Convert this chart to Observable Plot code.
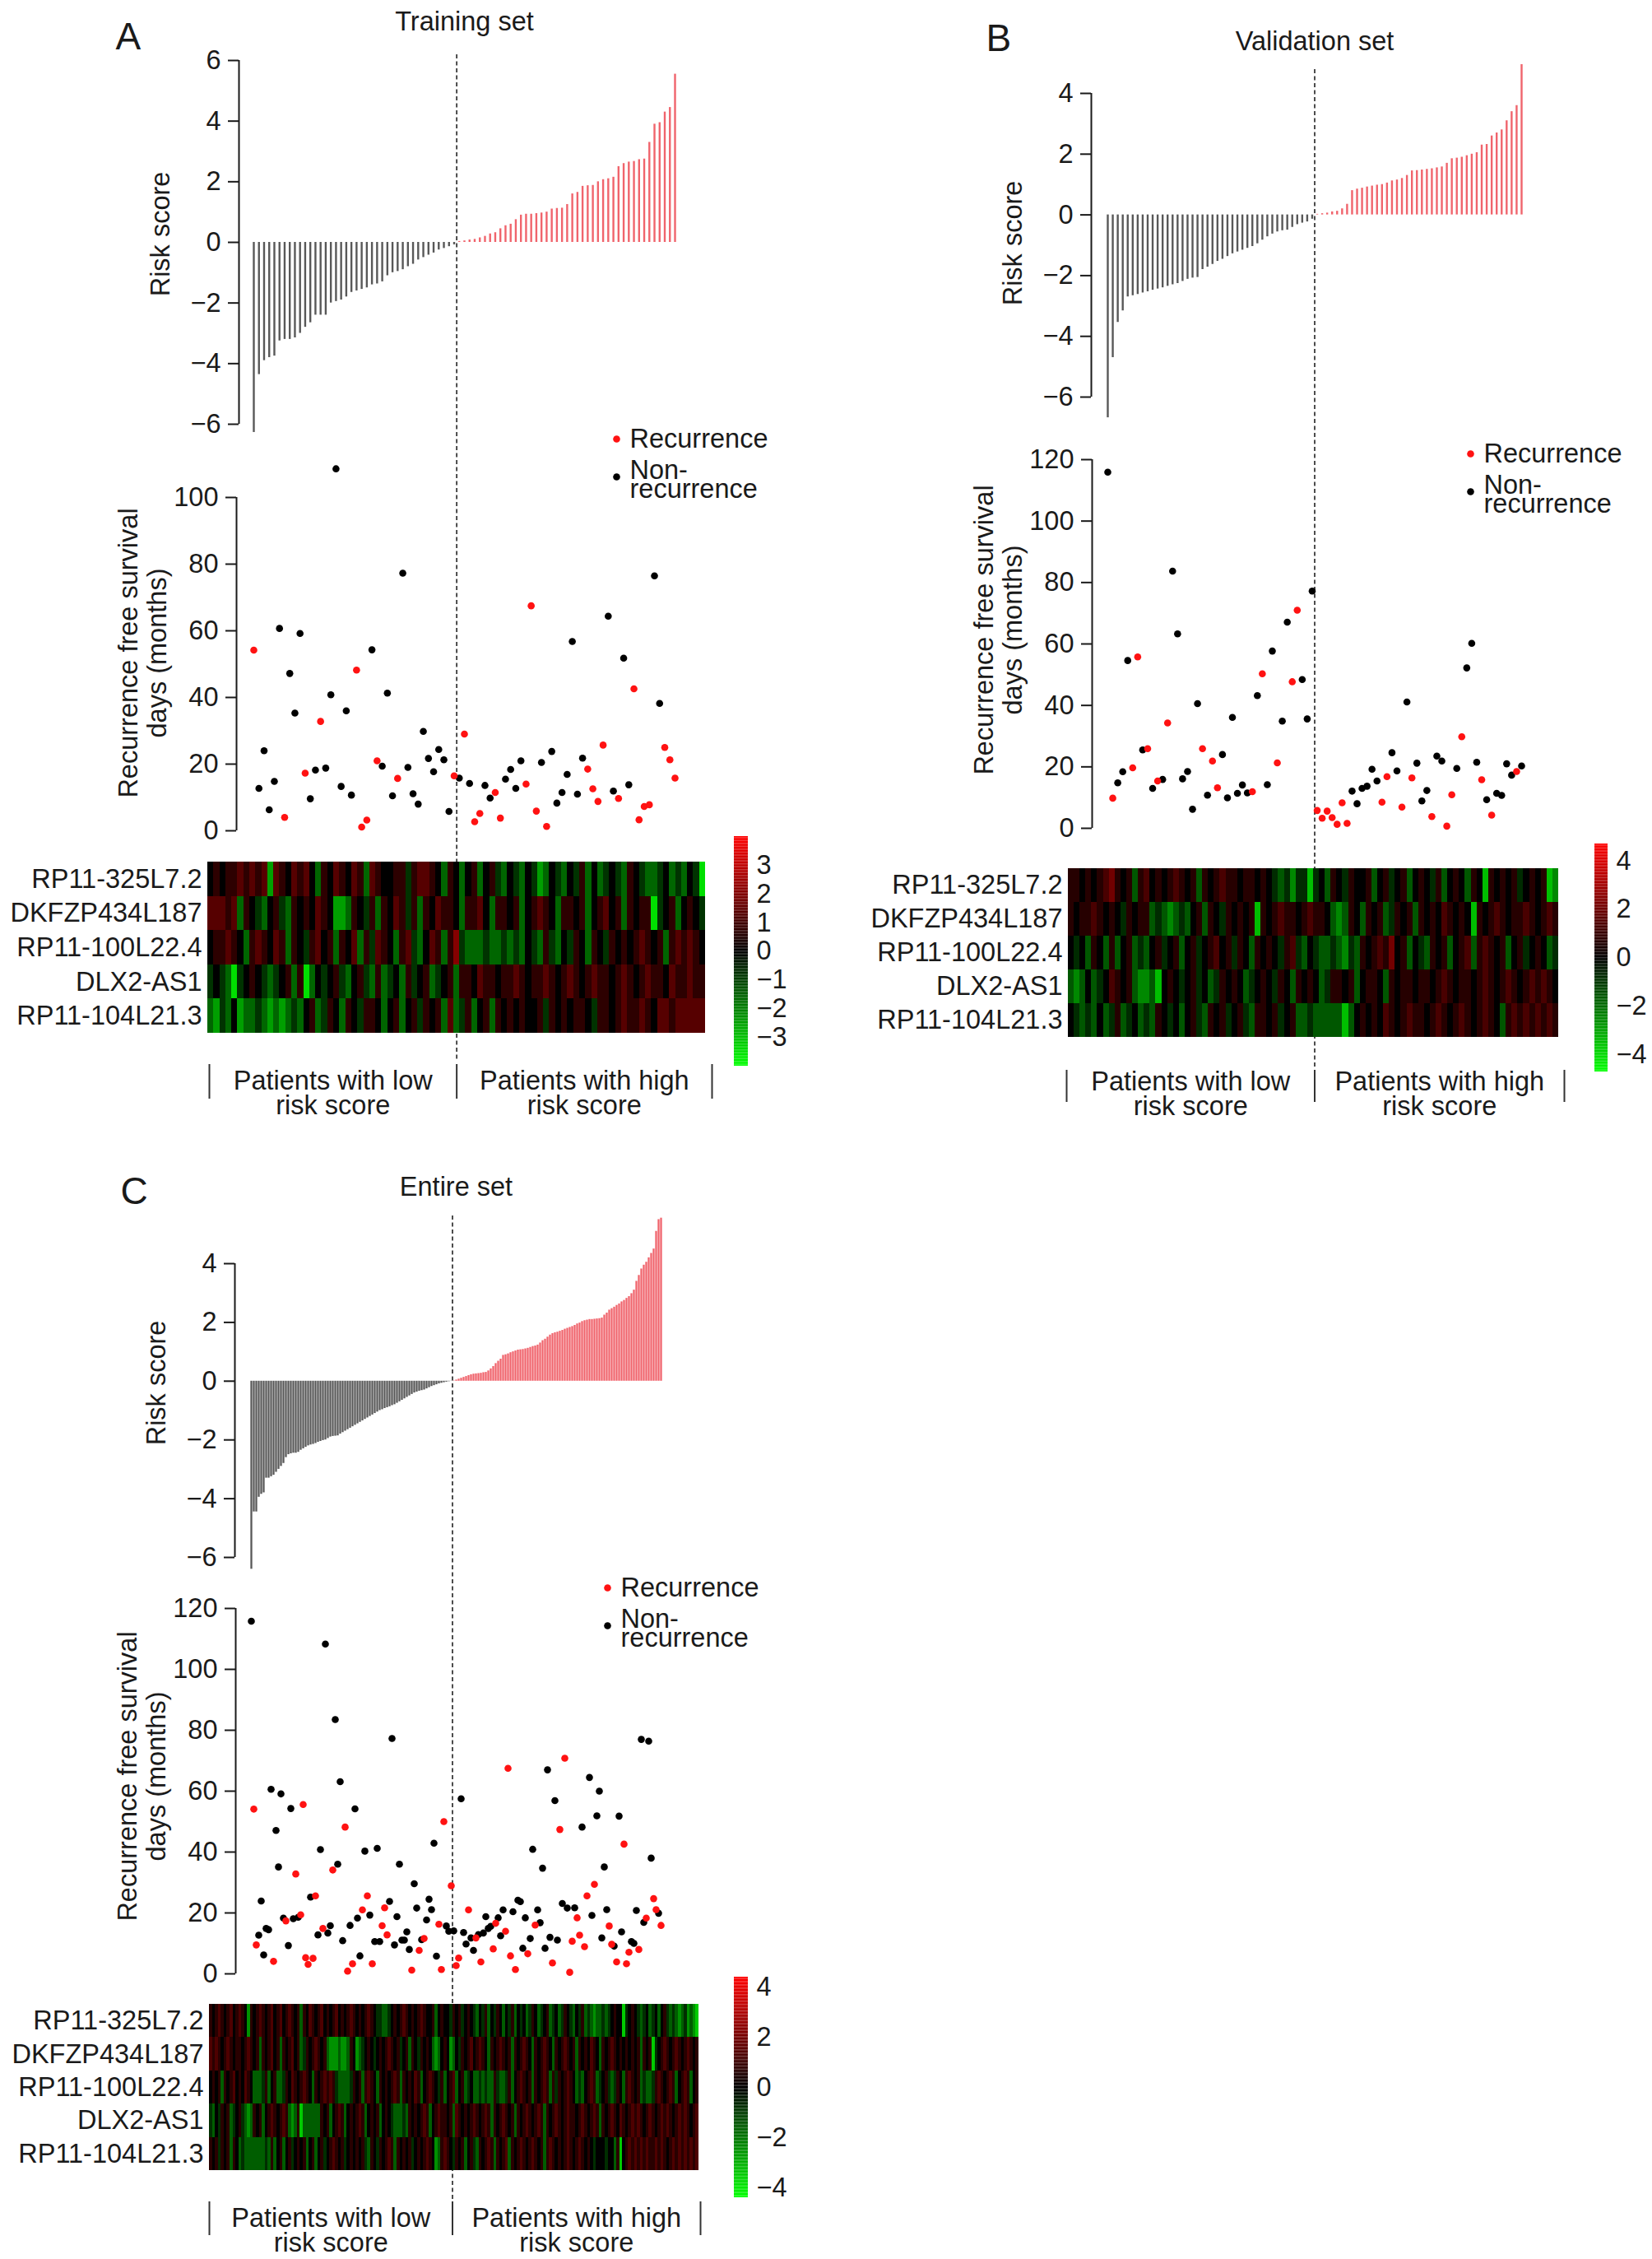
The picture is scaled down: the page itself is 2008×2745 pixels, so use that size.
<!DOCTYPE html>
<html>
<head>
<meta charset="utf-8">
<script src="https://cdn.jsdelivr.net/npm/d3@7"></script>
<script src="https://cdn.jsdelivr.net/npm/@observablehq/plot@0.6"></script>
<style>
html, body { margin: 0; padding: 0; background: #fff; }
#page { position: relative; width: 2008px; height: 2745px; overflow: hidden; background: #fff; }
#page > svg { position: absolute; left: 0; top: 0; }
</style>
</head>
<body>
<div id="page"></div>
<script>
// ---------------- text ----------------
const genes = ["RP11-325L7.2", "DKFZP434L187", "RP11-100L22.4", "DLX2-AS1", "RP11-104L21.3"];
const groupLabels = ["Patients with low\nrisk score", "Patients with high\nrisk score"];
const legendLabels = ["Recurrence", "Non-\nrecurrence"];
const riskLabel = "Risk score";
const survLabel = "Recurrence free survival\ndays (months)";
const panelTitles = ["Training set", "Validation set", "Entire set"];
const panelLetters = ["A", "B", "C"];

// ---------------- risk scores (sorted) ----------------
const trainLowScores = [-6.27,-4.36,-3.9,-3.8,-3.75,-3.25,-3.2,-3.2,-3.15,-3.0,-2.8,-2.65,-2.4,-2.4,-2.4,-2.0,-1.95,-1.9,-1.8,-1.65,-1.6,-1.55,-1.5,-1.4,-1.37,-1.3,-1.1,-1.0,-0.96,-0.9,-0.8,-0.72,-0.58,-0.5,-0.42,-0.35,-0.25,-0.2,-0.14,-0.08];
const trainHighScores = [0.03,0.05,0.08,0.1,0.15,0.2,0.28,0.32,0.45,0.55,0.6,0.75,0.9,0.93,0.93,0.95,0.97,1.0,1.1,1.12,1.13,1.25,1.6,1.65,1.85,1.87,1.88,2.0,2.07,2.1,2.15,2.5,2.6,2.65,2.67,2.73,2.75,3.3,3.9,3.95,4.3,4.45,5.55];

const validLowScores = [-6.68,-4.7,-3.54,-3.16,-2.7,-2.66,-2.62,-2.57,-2.53,-2.48,-2.44,-2.4,-2.35,-2.3,-2.26,-2.19,-2.12,-2.08,-2.06,-1.8,-1.72,-1.63,-1.53,-1.46,-1.37,-1.28,-1.22,-1.16,-1.1,-1.04,-0.95,-0.83,-0.72,-0.63,-0.56,-0.52,-0.5,-0.41,-0.32,-0.27,-0.23,-0.14];
const validHighScores = [0.02,0.04,0.06,0.1,0.12,0.2,0.35,0.8,0.85,0.88,0.92,0.95,0.98,1.0,1.05,1.12,1.15,1.2,1.3,1.45,1.46,1.48,1.5,1.52,1.55,1.58,1.7,1.85,1.87,1.9,1.95,2.0,2.05,2.3,2.32,2.6,2.7,2.8,3.1,3.4,3.6,4.95];

const entireLowScores = [-6.4,-4.45,-4.45,-3.95,-3.85,-3.8,-3.3,-3.3,-3.25,-3.2,
  -3.1,-3.0,-2.9,-2.8,-2.6,-2.5,-2.47,-2.45,-2.45,-2.42,
  -2.35,-2.3,-2.25,-2.2,-2.17,-2.15,-2.12,-2.08,-2.05,-2.02,
  -2.0,-1.95,-1.9,-1.88,-1.87,-1.86,-1.8,-1.75,-1.7,-1.65,
  -1.6,-1.55,-1.5,-1.45,-1.4,-1.35,-1.3,-1.25,-1.2,-1.15,
  -1.1,-1.05,-1.0,-0.97,-0.93,-0.9,-0.87,-0.83,-0.8,-0.75,
  -0.7,-0.65,-0.6,-0.55,-0.5,-0.45,-0.4,-0.37,-0.34,-0.32,
  -0.3,-0.26,-0.22,-0.18,-0.15,-0.12,-0.09,-0.07,-0.05,-0.03,
  -0.015,-0.005];
const entireHighScores = [0.01,0.04,0.07,0.1,0.13,0.16,0.19,0.22,0.24,0.25,
  0.26,0.27,0.29,0.3,0.35,0.42,0.5,0.6,0.68,0.75,
  0.88,0.9,0.93,0.97,1.0,1.03,1.06,1.07,1.08,1.1,
  1.12,1.15,1.18,1.2,1.23,1.3,1.38,1.43,1.5,1.57,
  1.62,1.65,1.67,1.7,1.73,1.77,1.8,1.83,1.86,1.9,
  1.95,1.98,2.03,2.06,2.08,2.1,2.1,2.11,2.12,2.13,
  2.15,2.25,2.32,2.42,2.47,2.52,2.58,2.63,2.7,2.75,
  2.82,2.88,2.98,3.1,3.4,3.6,3.82,3.95,4.05,4.2,
  4.35,4.5,5.1,5.5,5.55];

// ---------------- recurrence-free survival (months) and status (R = recurrence, N = non-recurrence) ----------------
const trainSurvival = [54.2,12.7,24,6.3,14.8,60.7,4,47.2,35.3,59.2,
  17.3,9.6,18.2,32.8,18.8,40.8,108.6,13.3,36,10.7,
  48.2,1.1,3.2,54.3,21,19.4,41.3,10.5,15.7,77.3,
  19,11.1,8,29.8,21.7,17.7,24.4,21.3,5.8,16.5,
  15.8,29,14.2,2.7,5.2,13.6,9.8,11.5,3.8,15.5,
  18.4,12.7,21,14,67.5,5.9,20.5,1.3,23.8,8.3,
  11.5,16.9,56.8,11,21.8,18.5,12.6,8.8,25.7,64.4,
  11.9,9.7,51.8,13.8,42.6,3.3,7.3,7.8,76.5,38.2,
  25,21.3,15.8];
const trainStatus = "RNNNNNRNNN" + "RNNRNNNNNN" + "RRRNRNNNRN" + "NNNNNNNNNR" + "NRNRRNNRRN" +
  "NNNRRRNRNN" + "NNNNNRRRRN" + "NRNNRRRRNN" + "RRR";

const validSurvival = [115.9,9.8,14.8,18.4,54.6,19.7,55.8,25.5,25.9,13,
  15.4,15.9,34.3,83.7,63.3,16.1,18.5,6.2,40.6,25.9,
  10.8,21.9,13.2,24,9.9,36.1,11.4,14.1,11.5,11.9,
  43.2,50.3,14.2,57.7,21.3,34.9,67.1,47.7,71,48.4,
  35.6,77.2,5.8,3.3,5.6,3.5,1.3,8.3,1.6,12.1,
  8,13,13.7,19.2,15.4,8.5,16.8,24.6,18.7,6.9,
  41.1,16.4,21.2,8.9,12.3,3.8,23.5,21.9,0.7,10.9,
  19.5,29.8,52.2,60.2,21.5,15.8,9.3,4.3,11.4,10.7,
  21,17.3,18.5,20.3];
const validStatus = "NRNNNRRNRN" + "RNRNNNNNNR" + "NRRNNNNNNR" + "NRNNRNNRRN" + "NNRRRRRRRN" +
  "NNNNNRRNNR" + "NRNNNRNNRR" + "NRNNNRNRNN" + "NNRN";

const entireSurvival = [115.8,54.1,9.5,12.7,23.9,6.2,14.9,14.5,60.6,4.1,
  47.1,35.1,59.1,18.3,17.4,9.3,54.3,18.1,32.8,18.6,
  19.4,55.6,5.3,3.1,25.2,5.1,25.6,12.8,40.8,14.9,
  108.3,13.4,15.8,34.1,83.5,36,63.1,10.9,48.2,0.9,
  15.9,3.3,54.2,18.3,5.9,21,40.3,25.6,19.3,3.3,
  10.6,41.2,10.6,15.8,21.7,12.8,23.8,77.3,9.5,18.8,
  36,11.1,11.1,13.8,8,1.2,29.6,21.6,7.7,11.2,
  11.6,17.7,24.5,21.1,42.9,5.8,16.3,1.4,50,15.7,
  14,28.9,14.1,2.7,5.2,57.5,13.6,9.8,21,11.8,
  7.7,11.8,12.9,3.9,13.4,18.8,14.9,15.6,8.2,16.6,
  18.4,12.5,21,14,67.5,5.9,20.4,1.4,24.2,23.7,
  8.4,18.4,6.6,11.6,40.9,16,21,16.8,34.7,8.4,
  67,12,3.6,56.9,11.1,47.4,23.1,70.8,21.6,0.5,
  10.7,21.7,18.4,12.7,48.2,8.9,25.6,64.5,19.2,29.4,
  51.9,60,11.8,35.1,21.1,15.7,9.7,9.1,3.9,51.8,
  13.8,42.6,3.3,7.1,10.6,10,20.8,8,77,16.9,
  18.3,76.4,38,24.7,21.1,19.9,15.9];
const entireStatus = "NRRNNNNNNR" + "NNNNRNNNRN" + "RRRRNRRNNR" + "NNNRNNNNRR" + "NRNNNRNRNR" +
  "NNNRRRNNNN" + "NNNNNRNNRN" + "RNNNNNRRRN" + "NRNRRNNNRN" + "NRNRNNNNRR" +
  "NNNRRRNRNN" + "NNRNNRNNNN" + "NNRNNRNRNR" + "RNRRNRRNNR" + "NNNNNRRNRN" +
  "NRRRNNNRNN" + "RNNRRNR";

// ---------------- heatmap expression levels (one letter per patient column) ----------------
const heatLevels = {a: -3.5, b: -2.5, c: -1.6, d: -0.8, e: 0, f: 0.7, g: 1.35, h: 2.1, i: 3.2};
const trainHeat = [
  ["efeffgfgfg","bgfegfgecf","egfegfcgfe","effdfggfec","fecefcefdc","edcedbcedc","edfcecdedc","fedccdecdc","eda"].join(""),
  ["gggfgcfedc","efdcfefegf","ebbcfedfcf","egfdfcfegf","fecffgecff","efcefgfecf","fefcefgefc","feffadefce","fed"].join(""),
  ["effgfecfgf","egfcfedfge","fcfegcfdgf","ecfgdcegfc","fhdcccdccd","cdcedcfdce","dfecfedfef","efgfefcfgf","gfe"].join(""),
  ["dedcadefed","cdefcfaced","efdcefdcfc","decfdefcde","fcffegffef","fgfeffgfef","gfefgffefg","fefgffegff","gff"].join(""),
  ["cbdcebccdc","bcbcdcefcd","fecfedffec","efcefdfefc","gcdfcefcfe","fefeefdfef","effedffefg","ffgfeggfgg","ggg"].join("")
];
const validHeat = [
  ["ffefefghfe","fcfgefefgf","efcfefgffe","ffefedcdbd","dadecfedfe","efcefdefce","fedfcefecf","eafefefdef","efab"].join(""),
  ["feffgfefed","feffcdcbcd","cefcfedfef","efafefgffe","fgffecbcfe","cfefcdfefc","fefegfefea","fefgfeffgf","efgf"].join(""),
  ["edecfecfce","fcdcefdefc","efdefgefdf","ecfefedfgd","cedccdcbdc","fefgfhefce","dcfefcefgc","fgfefcefde","fecd"].join(""),
  ["cbcecdegfe","fcbbcaefed","efdecdfefe","cdefedfecf","efecdffefc","effecfeffe","ffefgfeffe","fgfefgfefg","fgfe"].join(""),
  ["edcdcecdfc","decdcfedec","efdcfefdef","dcffefdefc","cdcccccace","fefegfefgf","fefgfefgfe","fgfecfgfgf","gfgf"].join("")
];
const entireHeat = [
  ["fefgfefgef","gfebfefgfe","fgefgefgfe","fcfegfefge","fefgefefgf","efefgfeddc","cdefefgfef","efgfeefcef","eedfefdefe","dcedfcedfe","cedfcedecd","fecdefcdec","dfedcedfcd","cbccdcdefe","eadefedcde","cdecefdcdc","bcdbcba"].join(""),
  ["gfgfefgfef","fefgfefcfe","fgefcfefge","fcdfefgfef","cbbbcbbcfe","bcdefedefe","fgfefdefcf","edfefecbce","febcedfefg","efgfecfefg","fefcfefgfe","cfefgfecfe","fgfefcfefe","gfecfefgfe","fefefefcfe","fadefgfefg","fefgfef"].join(""),
  ["efefcfefge","fegfecccdf","cefccdfegf","efgfecfefg","fgfdccccdf","efcfgfecfe","fefgfcfefe","gfcefgfedf","cefgcefcde","ccdcdccfdc","cdfcefgfef","cfefgfcfdf","efgfecdcef","gfcdefdcdf","ecfgfefcdc","cdfgfefgfc","efgfcef"].join(""),
  ["dcedfefcde","fdcbcfefce","fgfefgfcbc","faccccccfe","fcefgfcefe","fgfcefefce","fedcccdcfe","fefgfcefgf","fefcgfefef","gfefgfcfef","gfefcfefgf","efgfcfefgf","efgffefgfe","fgfcfefgfe","gfefgfgfef","gfefgfgfef","gfgfefg"].join(""),
  ["fefdfefcfe","cdcccccccd","cfcefcefde","fefcefcefd","efgfefdefe","fefdcfedfe","fgfcfefefd","efefgfebcf","gfedfefcef","dcfefgfcfe","fgcfefgfef","gfefcfgfef","efgfefgfef","edeeedeecf","aefgfgfgfg","ffgfgfefgf","gfgfgfg"].join("")
];

// colour bar limits and ticks
const trainColorLimit = 4.0, validColorLimit = 4.7, entireColorLimit = 4.4;
const trainColorTicks = [-3, -2, -1, 0, 1, 2, 3];
const otherColorTicks = [-4, -2, 0, 2, 4];

// ---------------- style ----------------
const W = 2008, H = 2745;
const FONT = "'Liberation Sans', Arial, Helvetica, sans-serif";
const INK = "#1a1a1a";
const GRAY_BAR = "#585858", RED_BAR = "#f0646c", RED_PT = "#ff1212", BLACK_PT = "#000000";
const STYLE = {background: "transparent", overflow: "visible", fontFamily: FONT, fontSize: "32.5px", color: INK};

const page = document.getElementById("page");
const txt = d => d;

function drawPanel(P) {
  const L = P.layout;
  const scores = P.low.concat(P.high);
  const n = scores.length, nLow = P.low.length;
  const xPat = d3.scaleLinear([0, n - 1], [L.x0, L.x1]);
  const cut = nLow - 0.5;
  const cutPx = xPat(cut);
  const tMin = d3.min(L.barTicks), tMax = d3.max(L.barTicks);
  const yBar = d3.scaleLinear([tMin, tMax], [L.barBottom, L.barTop]);
  const bars = scores.map((v, i) => ({i, v}));

  // ---- risk score bars ----
  const barPlot = Plot.plot({
    width: W, height: H,
    marginLeft: L.axisX, marginRight: W - L.x1 - 30, marginTop: L.barTop, marginBottom: H - L.barBottom,
    x: {domain: [0, n - 1], range: [L.x0, L.x1], axis: null},
    y: {domain: [tMin, tMax]},
    style: STYLE,
    marks: [
      Plot.ruleX(bars.filter(d => d.i < nLow), {x: "i", y1: 0, y2: "v", stroke: GRAY_BAR, strokeWidth: L.barW}),
      Plot.ruleX(bars.filter(d => d.i >= nLow), {x: "i", y1: 0, y2: "v", stroke: RED_BAR, strokeWidth: L.barW}),
      Plot.ruleX([cut], {y1: yBar.invert(L.dashTop), y2: yBar.invert(L.dashBottom), stroke: "#3a3a3a", strokeWidth: 1.8, strokeDasharray: "5,3.5"}),
      Plot.ruleX([xPat.invert(L.axisX)], {y1: tMin, y2: tMax, stroke: INK, strokeWidth: 2}),
      Plot.axisY({ticks: L.barTicks, tickSize: 13, tickPadding: 9, strokeWidth: 2, label: null}),
      Plot.text([riskLabel], {text: txt, frameAnchor: "left", rotate: -90, dx: -85, dy: L.riskLabelY - (L.barTop + L.barBottom) / 2, lineAnchor: "bottom", textAnchor: "middle"}),
      Plot.text([P.title], {text: txt, x: () => (n - 1) / 2, y: () => yBar.invert(L.titleBase), lineAnchor: "bottom", textAnchor: "middle"}),
      Plot.text([P.letter], {text: txt, x: () => xPat.invert(L.letterX), y: () => yBar.invert(L.letterBase), lineAnchor: "bottom", textAnchor: "start", fontSize: 46})
    ]
  });
  page.appendChild(barPlot);

  // ---- survival scatter ----
  const sMax = d3.max(L.scTicks);
  const ySc = d3.scaleLinear([0, sMax], [L.scBottom, L.scTop]);
  const pts = P.surv.map((t, i) => ({i, t, s: P.status[i]}));
  const scPlot = Plot.plot({
    width: W, height: H,
    marginLeft: L.scAxisX, marginRight: W - L.x1 - 30, marginTop: L.scTop, marginBottom: H - L.scBottom,
    x: {domain: [0, n - 1], range: [L.x0, L.x1], axis: null},
    y: {domain: [0, sMax]},
    style: STYLE,
    marks: [
      Plot.ruleX([xPat.invert(L.scAxisX)], {y1: 0, y2: sMax, stroke: INK, strokeWidth: 2}),
      Plot.axisY({ticks: L.scTicks, tickSize: 13, tickPadding: 9, strokeWidth: 2, label: null}),
      Plot.dot(pts.filter(d => d.s === "N"), {x: "i", y: "t", r: 4.3, fill: BLACK_PT}),
      Plot.dot(pts.filter(d => d.s === "R"), {x: "i", y: "t", r: 4.3, fill: RED_PT}),
      Plot.dot([0], {x: () => xPat.invert(L.legX), y: () => ySc.invert(L.legY), r: 4.3, fill: RED_PT}),
      Plot.dot([0], {x: () => xPat.invert(L.legX), y: () => ySc.invert(L.legY + 46), r: 4.3, fill: BLACK_PT}),
      Plot.text([legendLabels[0]], {text: txt, x: () => xPat.invert(L.legX + 16), y: () => ySc.invert(L.legY + 10), lineAnchor: "bottom", textAnchor: "start"}),
      Plot.text([legendLabels[1]], {text: txt, x: () => xPat.invert(L.legX + 16), y: () => ySc.invert(L.legY + 71), lineAnchor: "bottom", textAnchor: "start", lineHeight: 0.68}),
      Plot.text([survLabel], {text: txt, frameAnchor: "left", rotate: -90, dx: -86, dy: L.scLabelY - (L.scTop + L.scBottom) / 2, lineAnchor: "bottom", textAnchor: "middle", lineHeight: 1.05})
    ]
  });
  page.appendChild(scPlot);

  // ---- heatmap ----
  const lim = P.colorLimit;
  const colorSpec = {type: "linear", domain: [-lim, 0, lim], range: ["#00ff00", "#000000", "#ff0000"], interpolate: "rgb"};
  const cells = P.heat.flatMap((row, r) => Array.from(row).map((ch, c) => ({r, c, v: heatLevels[ch]})));
  const xHeat = d3.scaleLinear([0, n], [L.heatX0, L.heatX1]);
  const yHeat = d3.scaleLinear([0, genes.length], [L.heatY0, L.heatY1]);
  const cutHeat = xHeat.invert(cutPx);
  const sepL = xHeat.invert(L.sepL), sepR = xHeat.invert(L.sepR);
  const heatPlot = Plot.plot({
    width: W, height: H,
    marginLeft: L.heatX0, marginRight: W - L.heatX1, marginTop: L.heatY0, marginBottom: H - L.heatY1,
    x: {domain: [0, n], axis: null},
    y: {domain: [0, genes.length], reverse: true},
    color: colorSpec,
    style: STYLE,
    marks: [
      Plot.rect(cells, {x1: "c", x2: d => d.c + 1, y1: "r", y2: d => d.r + 1, fill: "v", shapeRendering: "crispEdges"}),
      Plot.axisY({ticks: genes.map((g, i) => i + 0.5), tickFormat: d => genes[Math.floor(d)], tickSize: 0, tickPadding: 7, label: null}),
      Plot.ruleX([sepL, cutHeat, sepR], {y1: yHeat.invert(L.grpTop), y2: yHeat.invert(L.grpBottom), stroke: "#333", strokeWidth: 2}),
      Plot.text(groupLabels, {text: txt,
        x: (d, i) => i === 0 ? (sepL + cutHeat) / 2 : (cutHeat + sepR) / 2,
        y: () => yHeat.invert(L.grpBase), lineAnchor: "bottom", textAnchor: "middle", lineHeight: 0.9})
    ]
  });
  page.appendChild(heatPlot);

  // ---- colour bar ----
  const step = lim / 100;
  const slices = d3.range(-lim, lim - step / 2, step);
  const cbPlot = Plot.plot({
    width: W, height: H,
    marginLeft: L.cbX0, marginRight: W - L.cbX1, marginTop: L.cbTop, marginBottom: H - L.cbBottom,
    x: {domain: [0, 1], axis: null},
    y: {domain: [-lim, lim]},
    color: colorSpec,
    style: STYLE,
    marks: [
      Plot.rect(slices, {x1: 0, x2: 1, y1: d => d, y2: d => Math.min(lim, d + step * 1.05), fill: d => d + step / 2}),
      Plot.axisY({anchor: "right", ticks: P.colorTicks, tickSize: 0, tickPadding: 10, label: null})
    ]
  });
  page.appendChild(cbPlot);
}

drawPanel({
  letter: panelLetters[0], title: panelTitles[0],
  low: trainLowScores, high: trainHighScores, surv: trainSurvival, status: trainStatus,
  heat: trainHeat, colorLimit: trainColorLimit, colorTicks: trainColorTicks,
  layout: {
    axisX: 290, x0: 308, x1: 820, barW: 2.4,
    barTicks: [-6, -4, -2, 0, 2, 4, 6], barTop: 73, barBottom: 515,
    titleBase: 36, letterX: 140, letterBase: 59, riskLabelY: 284,
    dashTop: 66, dashBottom: 1290,
    scAxisX: 287, scTicks: [0, 20, 40, 60, 80, 100], scTop: 604, scBottom: 1009, scLabelY: 793,
    legX: 749, legY: 533,
    heatX0: 252, heatX1: 857, heatY0: 1047, heatY1: 1255,
    sepL: 254, sepR: 865, grpTop: 1293, grpBottom: 1335, grpBase: 1353,
    cbX0: 892, cbX1: 909, cbTop: 1016, cbBottom: 1295
  }
});

drawPanel({
  letter: panelLetters[1], title: panelTitles[1],
  low: validLowScores, high: validHighScores, surv: validSurvival, status: validStatus,
  heat: validHeat, colorLimit: validColorLimit, colorTicks: otherColorTicks,
  layout: {
    axisX: 1326, x0: 1346, x1: 1849, barW: 2.4,
    barTicks: [-6, -4, -2, 0, 2, 4], barTop: 113, barBottom: 482,
    titleBase: 60, letterX: 1198, letterBase: 61, riskLabelY: 295,
    dashTop: 84, dashBottom: 1298,
    scAxisX: 1327, scTicks: [0, 20, 40, 60, 80, 100, 120], scTop: 558, scBottom: 1006, scLabelY: 765,
    legX: 1787, legY: 551,
    heatX0: 1298, heatX1: 1894, heatY0: 1055, heatY1: 1260,
    sepL: 1296, sepR: 1901, grpTop: 1300, grpBottom: 1339, grpBase: 1354,
    cbX0: 1938, cbX1: 1954, cbTop: 1025, cbBottom: 1302
  }
});

drawPanel({
  letter: panelLetters[2], title: panelTitles[2],
  low: entireLowScores, high: entireHighScores, surv: entireSurvival, status: entireStatus,
  heat: entireHeat, colorLimit: entireColorLimit, colorTicks: otherColorTicks,
  layout: {
    axisX: 285, x0: 305, x1: 803, barW: 2.3,
    barTicks: [-6, -4, -2, 0, 2, 4], barTop: 1535, barBottom: 1892,
    titleBase: 1452, letterX: 146, letterBase: 1462, riskLabelY: 1680,
    dashTop: 1477, dashBottom: 2672,
    scAxisX: 286, scTicks: [0, 20, 40, 60, 80, 100, 120], scTop: 1954, scBottom: 2398, scLabelY: 2158,
    legX: 738, legY: 1929,
    heatX0: 254, heatX1: 849, heatY0: 2435, heatY1: 2637,
    sepL: 254, sepR: 851, grpTop: 2675, grpBottom: 2716, grpBase: 2735,
    cbX0: 892, cbX1: 909, cbTop: 2402, cbBottom: 2670
  }
});
</script>
</body>
</html>
